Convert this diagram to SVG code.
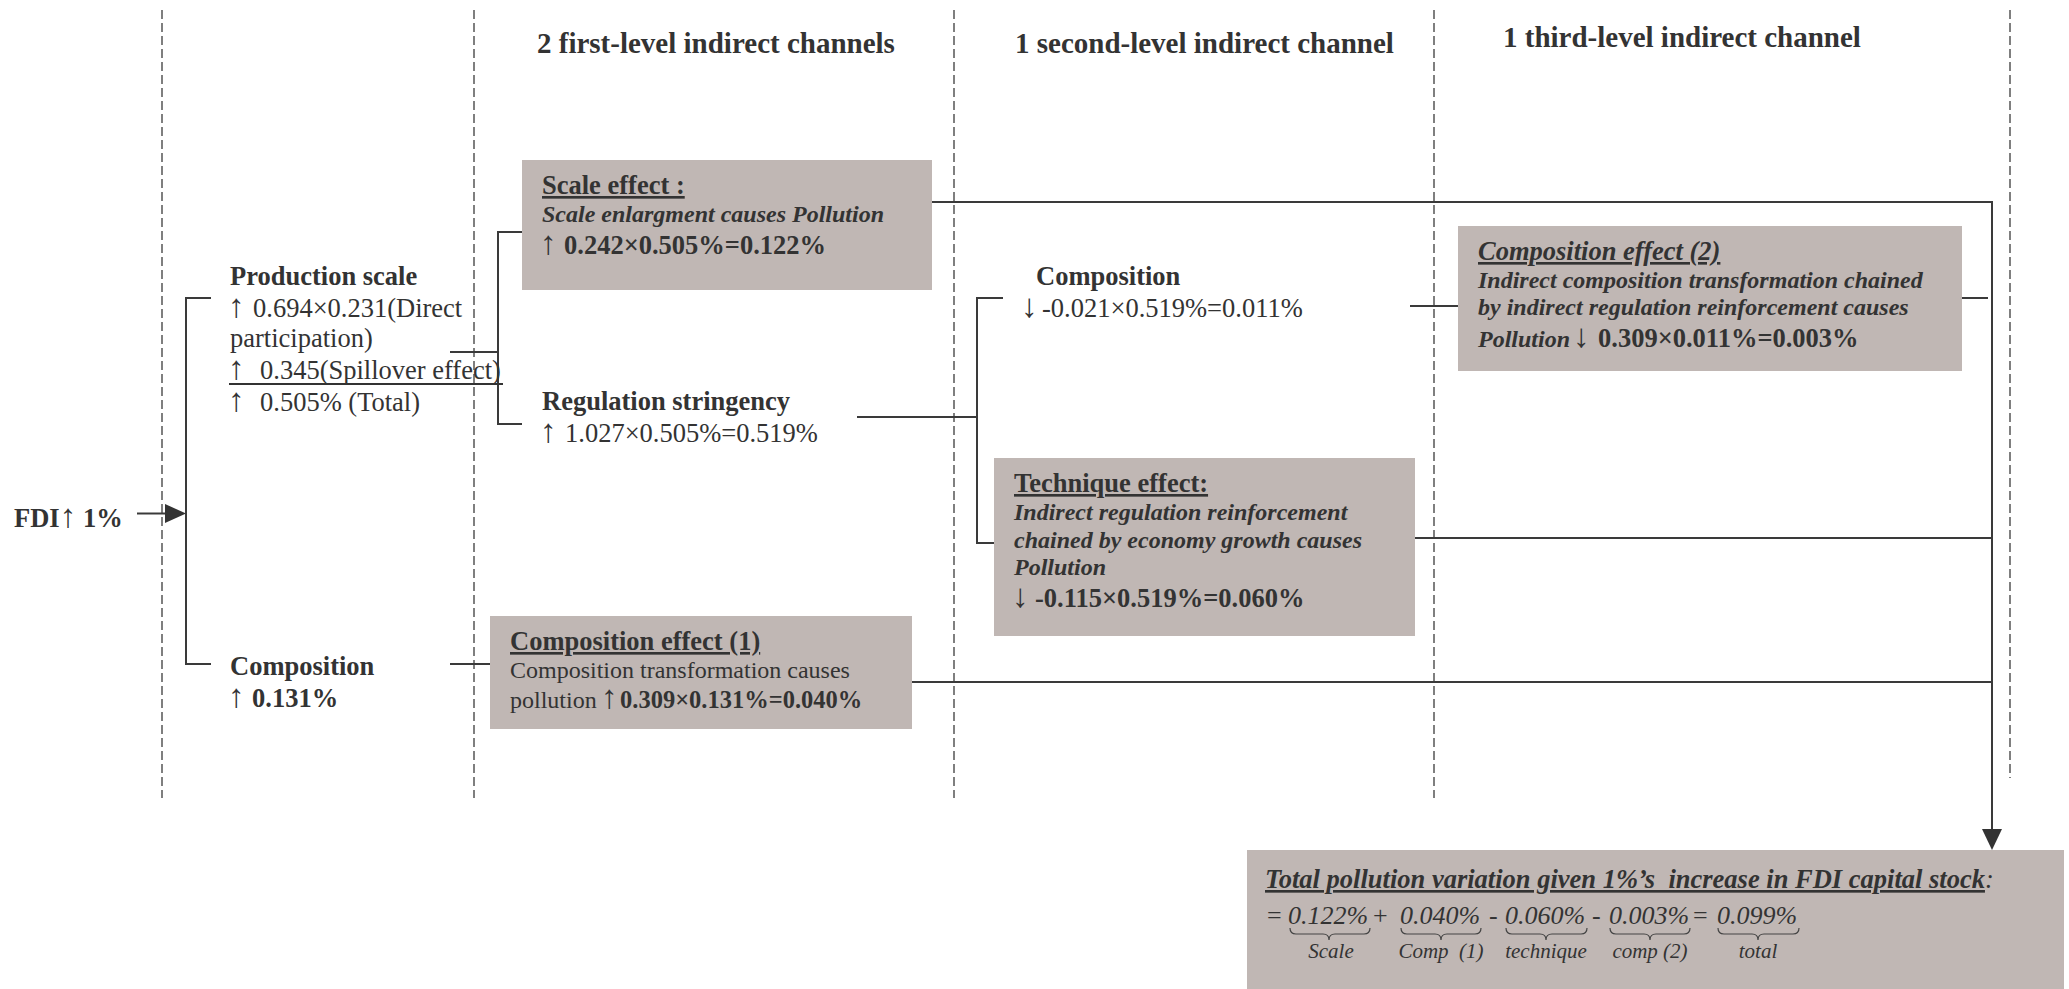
<svg xmlns="http://www.w3.org/2000/svg" width="2069" height="989" viewBox="0 0 2069 989">
<style>
.t{font-family:"Liberation Serif","Times New Roman",serif;fill:#333;font-size:26.5px}
.b{font-weight:bold}
.i{font-style:italic}
.n{font-weight:normal;font-style:normal}
.u{text-decoration:underline}
.s24{font-size:24px}
.s26{font-size:26px}
.s21{font-size:21px}
.ar{font-size:33px;font-weight:normal;font-style:normal}
.h{font-size:29px;font-weight:bold}
.box{fill:#c0b7b4}
.ln{stroke:#3a3a3a;stroke-width:2;fill:none}
.dash{stroke:#555;stroke-width:1.5;stroke-dasharray:9 4;fill:none}
.ah{fill:#333}
.brace{stroke:#444;stroke-width:1.2;fill:none}
</style>
<rect width="2069" height="989" fill="#fff"/>
<g id="guides">
<line class="dash" x1="162" y1="10" x2="162" y2="798"/>
<line class="dash" x1="474" y1="10" x2="474" y2="798"/>
<line class="dash" x1="954" y1="10" x2="954" y2="798"/>
<line class="dash" x1="1434" y1="10" x2="1434" y2="798"/>
<line class="dash" x1="2010" y1="10" x2="2010" y2="778"/>
</g>
<g id="headers">
<text class="t h" x="537" y="53">2 first-level indirect channels</text>
<text class="t h" x="1015" y="53">1 second-level indirect channel</text>
<text class="t h" x="1503" y="47">1 third-level indirect channel</text>
</g>
<g id="connectors">
<line class="ln" x1="137" y1="513.5" x2="166" y2="513.5"/>
<polygon class="ah" points="165,504 186,513.5 165,523"/>
<path class="ln" d="M211,298 H186 V664 H211"/>
<path class="ln" d="M450,352 H498"/>
<path class="ln" d="M522,232 H498 V424 H522"/>
<path class="ln" d="M450,664 H490"/>
<path class="ln" d="M857,417 H977"/>
<path class="ln" d="M1003,298 H977 V543 H994"/>
<path class="ln" d="M1410,306 H1458"/>
<path class="ln" d="M932,202 H1992 V830"/>
<polygon class="ah" points="1982,829 2002,829 1992,850"/>
<path class="ln" d="M1962,298 H1988"/>
<path class="ln" d="M1415,538 H1992"/>
<path class="ln" d="M912,682 H1992"/>
</g>
<g id="fdi">
<text class="t b" x="14" y="527">FDI<tspan class="ar">↑</tspan><tspan x="83">1%</tspan></text>
</g>
<g id="production-scale">
<text class="t b" x="230" y="285">Production scale</text>
<text class="t" x="228" y="317"><tspan class="ar">↑</tspan><tspan x="253">0.694×0.231(Direct</tspan></text>
<text class="t" x="230" y="347">participation)</text>
<text class="t" x="228" y="379"><tspan class="ar">↑</tspan><tspan x="260">0.345(Spillover effect)</tspan></text>
<line x1="229" y1="384" x2="503" y2="384" stroke="#333" stroke-width="2"/>
<text class="t" x="228" y="411"><tspan class="ar">↑</tspan><tspan x="260">0.505% (Total)</tspan></text>
</g>
<g id="composition-1">
<text class="t b" x="230" y="675">Composition</text>
<text class="t" x="228" y="707"><tspan class="ar">↑</tspan><tspan x="252" class="b">0.131%</tspan></text>
</g>
<g id="scale-effect">
<rect class="box" x="522" y="160" width="410" height="130"/>
<text class="t b u" x="542" y="194">Scale effect :</text>
<text class="t b i s24" x="542" y="222">Scale enlargment causes Pollution</text>
<text class="t" x="540" y="254"><tspan class="ar">↑</tspan><tspan x="564" class="b">0.242×0.505%=0.122%</tspan></text>
</g>
<g id="regulation-stringency">
<text class="t b" x="542" y="410">Regulation stringency</text>
<text class="t" x="540" y="442"><tspan class="ar">↑</tspan><tspan x="565">1.027×0.505%=0.519%</tspan></text>
</g>
<g id="composition-effect-1">
<rect class="box" x="490" y="616" width="422" height="113"/>
<text class="t b u" x="510" y="650">Composition effect (1)</text>
<text class="t s24" x="510" y="678">Composition transformation causes</text>
<text class="t s24" x="510" y="708">pollution<tspan x="601" class="ar">↑</tspan><tspan x="620" class="b" style="font-size:24.5px">0.309×0.131%=0.040%</tspan></text>
</g>
<g id="composition-2">
<text class="t b" x="1036" y="285">Composition</text>
<text class="t" x="1021" y="317"><tspan class="ar">↓</tspan><tspan x="1042">-0.021×0.519%=0.011%</tspan></text>
</g>
<g id="technique-effect">
<rect class="box" x="994" y="458" width="421" height="178"/>
<text class="t b u" x="1014" y="492">Technique effect:</text>
<text class="t b i s24" x="1014" y="520">Indirect regulation reinforcement</text>
<text class="t b i s24" x="1014" y="548">chained by economy growth causes</text>
<text class="t b i s24" x="1014" y="575">Pollution</text>
<text class="t" x="1012" y="607"><tspan class="ar">↓</tspan><tspan x="1035" class="b">-0.115×0.519%=0.060%</tspan></text>
</g>
<g id="composition-effect-2">
<rect class="box" x="1458" y="226" width="504" height="145"/>
<text class="t b i u" x="1478" y="260">Composition effect (2)</text>
<text class="t b i s24" x="1478" y="288">Indirect composition transformation chained</text>
<text class="t b i s24" x="1478" y="315">by indirect regulation reinforcement causes</text>
<text class="t b i s24" x="1478" y="347">Pollution<tspan x="1573" class="ar">↓</tspan><tspan x="1598" class="b" style="font-style:normal;font-size:26.5px">0.309×0.011%=0.003%</tspan></text>
</g>
<g id="total">
<rect class="box" x="1247" y="850" width="817" height="139"/>
<text class="t b i" x="1265" y="888" xml:space="preserve"><tspan class="u">Total pollution variation given 1%’s  increase in FDI capital stock</tspan><tspan style="font-weight:normal">:</tspan></text>
<text class="t s26" x="1267" y="924">=</text>
<text class="t i s26" x="1288" y="924">0.122%</text>
<text class="t s26" x="1373" y="924">+</text>
<text class="t i s26" x="1400" y="924">0.040%</text>
<text class="t s26" x="1489" y="924">-</text>
<text class="t i s26" x="1505" y="924">0.060%</text>
<text class="t s26" x="1592" y="924">-</text>
<text class="t i s26" x="1609" y="924">0.003%</text>
<text class="t s26" x="1693" y="924">=</text>
<text class="t i s26" x="1717" y="924">0.099%</text>
<path class="brace" d="M1290,928 q0,6 6,6 H1323 q6,0 6,6 q0,-6 6,-6 H1364 q6,0 6,-6"/>
<path class="brace" d="M1401,928 q0,6 6,6 H1435 q6,0 6,6 q0,-6 6,-6 H1475 q6,0 6,-6"/>
<path class="brace" d="M1506,928 q0,6 6,6 H1540 q6,0 6,6 q0,-6 6,-6 H1581 q6,0 6,-6"/>
<path class="brace" d="M1610,928 q0,6 6,6 H1644 q6,0 6,6 q0,-6 6,-6 H1684 q6,0 6,-6"/>
<path class="brace" d="M1718,928 q0,6 6,6 H1752 q6,0 6,6 q0,-6 6,-6 H1793 q6,0 6,-6"/>
<text class="t i s21" x="1331" y="958" text-anchor="middle">Scale</text>
<text class="t i s21" x="1441" y="958" text-anchor="middle" xml:space="preserve">Comp  (1)</text>
<text class="t i s21" x="1546" y="958" text-anchor="middle">technique</text>
<text class="t i s21" x="1650" y="958" text-anchor="middle">comp (2)</text>
<text class="t i s21" x="1758" y="958" text-anchor="middle">total</text>
</g>
</svg>
